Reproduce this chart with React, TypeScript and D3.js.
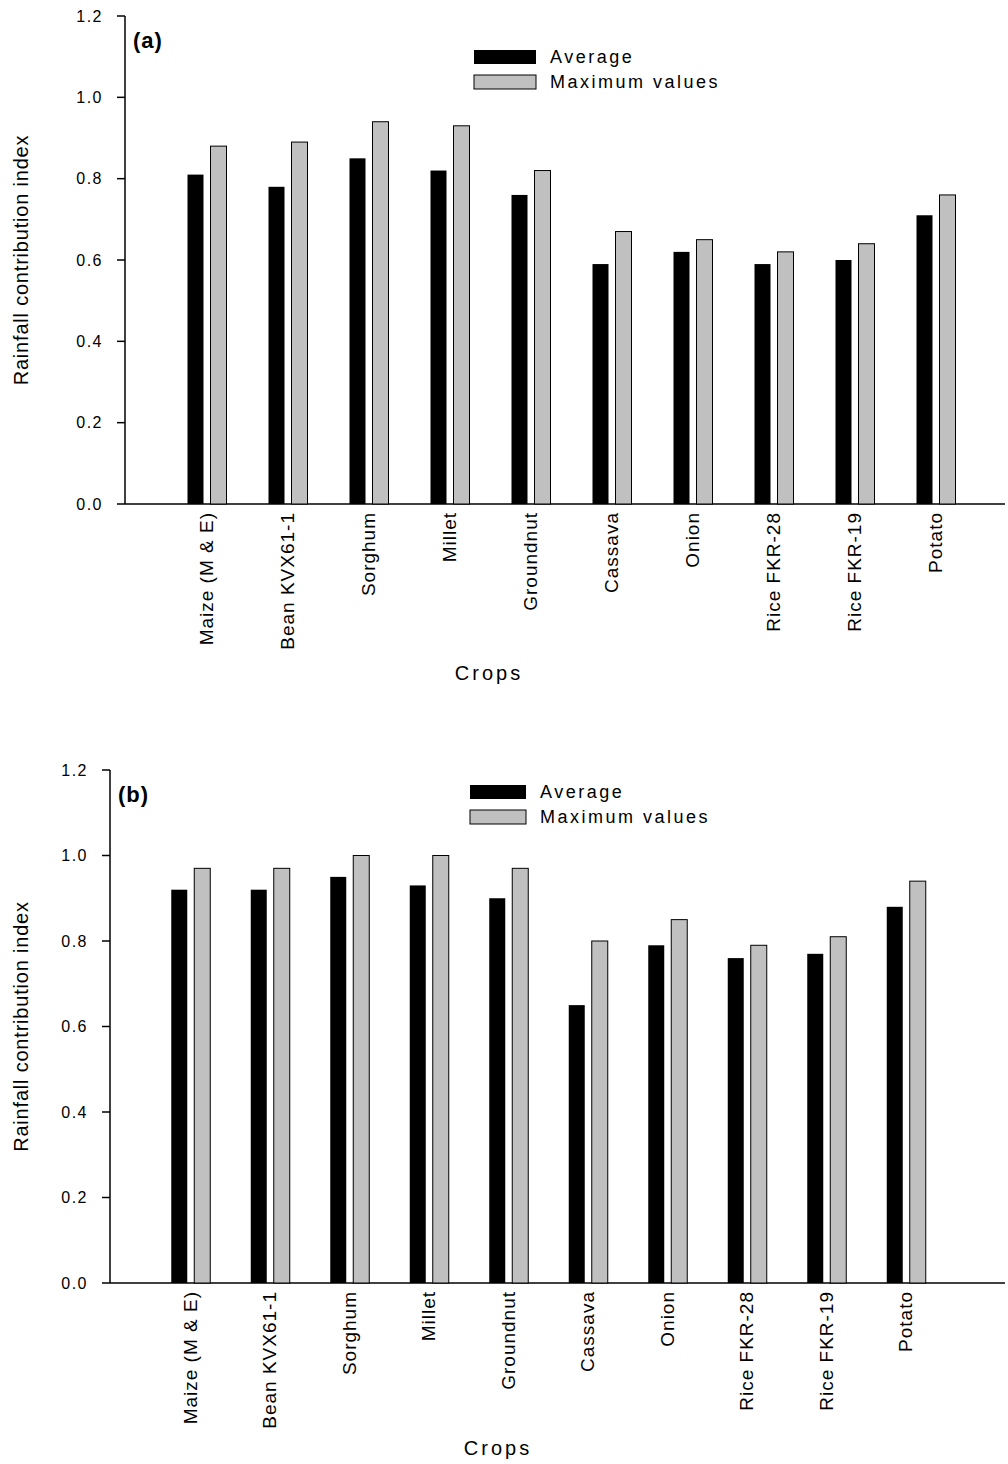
import React from 'react';
import * as d3 from 'd3';

const crops = ['Maize (M & E)', 'Bean KVX61-1', 'Sorghum', 'Millet', 'Groundnut', 'Cassava', 'Onion', 'Rice FKR-28', 'Rice FKR-19', 'Potato'];
const avgA = [0.81, 0.78, 0.85, 0.82, 0.76, 0.59, 0.62, 0.59, 0.60, 0.71];
const maxA = [0.88, 0.89, 0.94, 0.93, 0.82, 0.67, 0.65, 0.62, 0.64, 0.76];
const avgB = [0.92, 0.92, 0.95, 0.93, 0.90, 0.65, 0.79, 0.76, 0.77, 0.88];
const maxB = [0.97, 0.97, 1.0, 1.0, 0.97, 0.80, 0.85, 0.79, 0.81, 0.94];
const yTicks = [0, 0.2, 0.4, 0.6, 0.8, 1.0, 1.2];

const font = 'Arial, "Liberation Sans", sans-serif';

type PanelProps = {
  tag: string; avg: number[]; max: number[];
  x0: number; x1: number; band: [number, number];
  top: number; bottom: number; legendX: number; legendY: number; legendW: number;
  cropsY: number; cropsX: number;
};

const Panel = (p: PanelProps) => {
  const x = d3.scaleBand().domain(crops).range(p.band);
  const y = d3.scaleLinear().domain([0, 1.2]).range([p.bottom, p.top]);
  const bw = 16, gap = 7;
  return (
    <g fontFamily={font}>
      <line x1={p.x0} x2={p.x0} y1={p.top} y2={p.bottom} stroke="#000" strokeWidth={1.5} />
      <line x1={p.x0} x2={p.x1} y1={p.bottom} y2={p.bottom} stroke="#000" strokeWidth={1.5} />
      {yTicks.map(t => (
        <g key={t}>
          <line x1={p.x0 - 8} x2={p.x0} y1={y(t)} y2={y(t)} stroke="#000" strokeWidth={1.5} />
          <text x={p.x0 - 22} y={y(t)} dy="0.35em" textAnchor="end" fontSize={16} letterSpacing={1.5}>{t.toFixed(1)}</text>
        </g>
      ))}
      {crops.map((c, i) => {
        const cx = (x(c) ?? 0) + x.bandwidth() / 2;
        return (
          <g key={c}>
            <rect x={cx - gap / 2 - bw} y={y(p.avg[i])} width={bw} height={p.bottom - y(p.avg[i])} fill="#000" />
            <rect x={cx + gap / 2} y={y(p.max[i])} width={bw} height={p.bottom - y(p.max[i])} fill="#c0c0c0" stroke="#000" strokeWidth={1} />
            <text transform={`translate(${cx + 6},${p.bottom + 8}) rotate(-90)`} textAnchor="end" fontSize={19} letterSpacing={1}>{c}</text>
          </g>
        );
      })}
      <text transform={`translate(28,${(p.top + p.bottom) / 2}) rotate(-90)`} textAnchor="middle" fontSize={20} letterSpacing={0.8}>Rainfall contribution index</text>
      <text x={p.cropsX} y={p.cropsY} textAnchor="middle" fontSize={20} letterSpacing={3}>Crops</text>
      <text x={p.x0 + 8} y={p.top + 32} fontSize={22} fontWeight="bold" letterSpacing={1}>{p.tag}</text>
      <rect x={p.legendX} y={p.legendY} width={p.legendW} height={14} fill="#000" />
      <rect x={p.legendX} y={p.legendY + 25} width={p.legendW} height={14} fill="#c0c0c0" stroke="#000" />
      <text x={p.legendX + p.legendW + 14} y={p.legendY + 7} dy="0.35em" fontSize={18} letterSpacing={2.5}>Average</text>
      <text x={p.legendX + p.legendW + 14} y={p.legendY + 32} dy="0.35em" fontSize={18} letterSpacing={2.5}>Maximum values</text>
    </g>
  );
};

export default function App() {
  return (
    <svg width={1008} height={1464} style={{ position: 'absolute', left: 0, top: 0, background: '#fff' }}>
      <Panel tag="(a)" avg={avgA} max={maxA} x0={125} x1={1005} band={[166.5, 976.5]} top={16} bottom={504}
        legendX={474} legendY={50} legendW={62} cropsX={489} cropsY={680} />
      <Panel tag="(b)" avg={avgB} max={maxB} x0={110} x1={1005} band={[151, 946]} top={770} bottom={1283}
        legendX={470} legendY={785} legendW={56} cropsX={498} cropsY={1455} />
    </svg>
  );
}
